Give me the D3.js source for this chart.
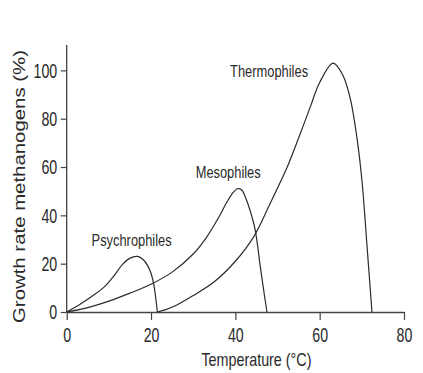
<!DOCTYPE html>
<html>
<head>
<meta charset="utf-8">
<script src="https://cdn.jsdelivr.net/npm/d3@7"></script>
<style>
  body { margin: 0; background: #fff; }
  text { font-family: "Liberation Sans", Arial, sans-serif; fill: #2a2a2a; }
</style>
</head>
<body>
<div id="chart"></div>
<script>
// growth curves (temperature in degC, growth rate in %)
var psychroTemp = [0, 3, 6, 9, 11, 13.4, 15, 16.8, 18.5, 19.8, 20.6, 21.1, 21.5];
var psychroGrowth = [0, 3, 6.5, 10.5, 14.5, 20, 22.3, 23, 21, 17, 12, 6, 0];

var mesoTemp = [0, 5, 10, 15, 20, 25, 30, 33, 36, 38, 39.5, 40.5, 41.5, 42.5, 43.5, 44.7, 45.9, 46.8, 47.5];
var mesoGrowth = [0, 1.8, 4.5, 7.8, 11.5, 16.5, 24, 30.5, 39, 45.5, 49.5, 51, 50.5, 47, 42, 34, 19, 8, 0];

var thermoTemp = [21.5, 23.5, 26, 30, 35, 40, 44.3, 48, 52.3, 55, 57.8, 60, 63.2, 65.5, 67.3, 69, 70.1, 71.2, 72.4];
var thermoGrowth = [0, 1, 2.8, 6.8, 12.5, 21, 31, 44, 60, 72, 85, 95, 103, 98, 88, 70, 53, 28, 0];

var xTicks = [0, 20, 40, 60, 80];
var yTicks = [0, 20, 40, 60, 80, 100];

var seriesNames = ["Psychrophiles", "Mesophiles", "Thermophiles"];
// where each curve's name sits, in data units (x centre, y baseline)
var labelX = [15.4, 38.3, 48];
var labelY = [27.4, 55.4, 97.3];
var labelWidth = [80, 65, 78];

var margin = {top: 45, right: 19, bottom: 61, left: 66.7},
    width = 423 - margin.left - margin.right,
    height = 373 - margin.top - margin.bottom;

var svg = d3.select("#chart").append("svg")
    .attr("width", 423)
    .attr("height", 373)
  .append("g")
    .attr("transform", "translate(" + margin.left + "," + margin.top + ")");

var x = d3.scaleLinear().domain([0, 80]).range([0, width]);
var y = d3.scaleLinear().domain([0, 110.5]).range([height, 0]);

var xAxis = svg.append("g")
    .attr("transform", "translate(0," + height + ")")
    .call(d3.axisBottom(x).tickValues(xTicks).tickSize(8).tickPadding(8).tickSizeOuter(0));

var yAxis = svg.append("g")
    .call(d3.axisLeft(y).tickValues(yTicks).tickSize(6).tickPadding(3.5).tickSizeOuter(0));

[xAxis, yAxis].forEach(function(ax) {
  ax.select(".domain").attr("stroke", "#444").attr("stroke-width", 1.3);
  ax.selectAll(".tick line").attr("stroke", "#444").attr("stroke-width", 1.2);
  ax.selectAll(".tick text")
      .attr("font-size", 20)
      .attr("fill", "#2a2a2a")
      .attr("textLength", function(d) { return String(d).length * 7.9; })
      .attr("lengthAdjust", "spacingAndGlyphs");
});
yAxis.selectAll(".tick text").attr("dy", "0.34em");
// y axis line runs a little above 100
yAxis.select(".domain").attr("d", "M0," + height + "V0");

var line = d3.line()
    .x(function(d) { return x(d[0]); })
    .y(function(d) { return y(d[1]); })
    .curve(d3.curveCatmullRom.alpha(0.5));

var series = [
  d3.zip(psychroTemp, psychroGrowth),
  d3.zip(mesoTemp, mesoGrowth),
  d3.zip(thermoTemp, thermoGrowth)
];

svg.selectAll(".curve")
    .data(series)
  .enter().append("path")
    .attr("class", "curve")
    .attr("d", line)
    .attr("fill", "none")
    .attr("stroke", "#2b2b2b")
    .attr("stroke-width", 1.2);

svg.selectAll(".label")
    .data(seriesNames)
  .enter().append("text")
    .attr("class", "label")
    .attr("x", function(d, i) { return x(labelX[i]); })
    .attr("y", function(d, i) { return y(labelY[i]); })
    .attr("text-anchor", "middle")
    .attr("font-size", 17)
    .attr("textLength", function(d, i) { return labelWidth[i]; })
    .attr("lengthAdjust", "spacingAndGlyphs")
    .text(function(d) { return d; });

svg.append("text")
    .attr("x", x(45))
    .attr("y", height + 54)
    .attr("text-anchor", "middle")
    .attr("font-size", 18.5)
    .attr("textLength", 110)
    .attr("lengthAdjust", "spacingAndGlyphs")
    .text("Temperature (\u00B0C)");

svg.append("text")
    .attr("transform", "translate(" + (25.5 - margin.left) + "," + (186.5 - margin.top) + ") rotate(-90)")
    .attr("text-anchor", "middle")
    .attr("font-size", 17)
    .attr("textLength", 273)
    .attr("lengthAdjust", "spacingAndGlyphs")
    .text("Growth rate methanogens (%)");
</script>
</body>
</html>
